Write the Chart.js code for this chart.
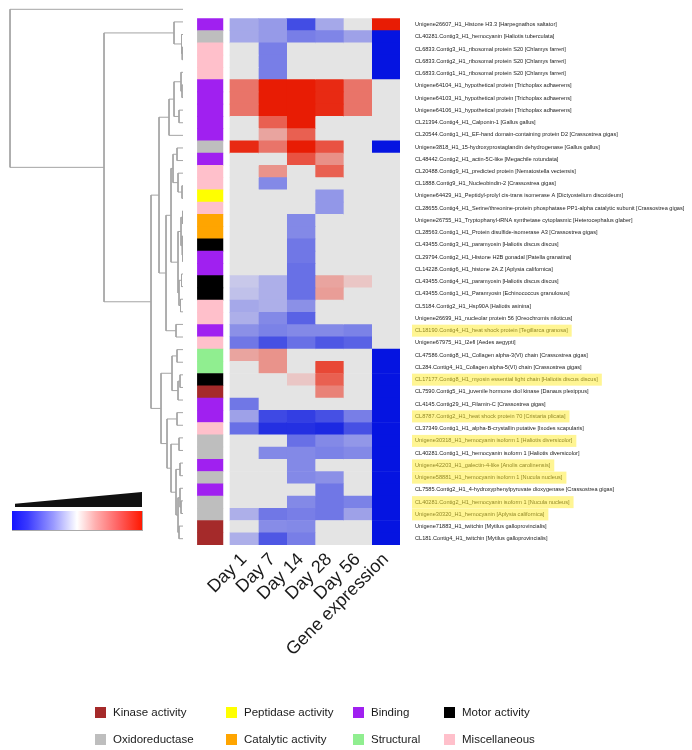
<!DOCTYPE html>
<html>
<head>
<meta charset="utf-8">
<script src="https://cdn.jsdelivr.net/npm/chart.js@4.4.1/dist/chart.umd.min.js"></script>
<style>
  body { margin:0; background:#fff; font-family:"Liberation Sans", Arial, sans-serif; }
  #wrap { position:relative; width:692px; height:750px; overflow:hidden; }
  #heatmap, #tree { position:absolute; left:0; top:0; }
  .wedge { position:absolute; left:15px; top:492px; width:127px; height:15px; background:#111;
           clip-path:polygon(0 78%, 100% 0, 100% 100%, 0 100%); }
  .colorbar { position:absolute; left:12px; top:511px; width:130px; height:19px;
              background:linear-gradient(to right, #1414ff 0%, #3a3aff 12%, #9a9aff 32%, #ffffff 50%, #ffb0b0 64%, #ff6060 82%, #ff1800 100%);
              border-right:1px solid #aaa; border-bottom:1px solid #aaa; }
  .legend { position:absolute; left:95px; top:706px; display:grid;
            grid-template-columns:131px 127px 91px 120px; row-gap:15px; font-size:11.5px; color:#1a1a1a; }
  .legend div { display:flex; align-items:center; height:12px; white-space:nowrap; }
  .legend span { display:inline-block; width:11px; height:11px; margin-right:7px; }
</style>
</head>
<body>
<div id="wrap">
  <canvas id="heatmap" width="692" height="750"></canvas>
  <canvas id="tree" width="200" height="560"></canvas>
  <div class="wedge"></div>
  <div class="colorbar"></div>
  <div class="legend" id="legend"></div>
</div>
<script>
// DATA
const rowLabels = [
  "Unigene26607_H1_Histone H3.3 [Harpegnathos saltator]",
  "CL40281.Contig3_H1_hemocyanin [Haliotis tuberculata]",
  "CL6833.Contig3_H1_ribosomal protein S20 [Chlamys farreri]",
  "CL6833.Contig2_H1_ribosomal protein S20 [Chlamys farreri]",
  "CL6833.Contig1_H1_ribosomal protein S20 [Chlamys farreri]",
  "Unigene64104_H1_hypothetical protein [Trichoplax adhaerens]",
  "Unigene64103_H1_hypothetical protein [Trichoplax adhaerens]",
  "Unigene64106_H1_hypothetical protein [Trichoplax adhaerens]",
  "CL21394.Contig4_H1_Calponin-1 [Gallus gallus]",
  "CL20544.Contig1_H1_EF-hand domain-containing protein D2 [Crassostrea gigas]",
  "Unigene3818_H1_15-hydroxyprostaglandin dehydrogenase [Gallus gallus]",
  "CL48442.Contig2_H1_actin-5C-like [Megachile rotundata]",
  "CL20488.Contig9_H1_predicted protein [Nematostella vectensis]",
  "CL1888.Contig9_H1_Nucleobindin-2 [Crassostrea gigas]",
  "Unigene64429_H1_Peptidyl-prolyl cis-trans isomerase A [Dictyostelium discoideum]",
  "CL28655.Contig4_H1_Serine/threonine-protein phosphatase PP1-alpha catalytic subunit [Crassostrea gigas]",
  "Unigene26755_H1_Tryptophanyl-tRNA synthetase cytoplasmic [Heterocephalus glaber]",
  "CL28563.Contig1_H1_Protein disulfide-isomerase A3 [Crassostrea gigas]",
  "CL43455.Contig3_H1_paramyosin [Haliotis discus discus]",
  "CL29794.Contig2_H1_Histone H2B gonadal [Patella granatina]",
  "CL14228.Contig6_H1_histone 2A.Z [Aplysia californica]",
  "CL43455.Contig4_H1_paramyosin [Haliotis discus discus]",
  "CL43455.Contig1_H1_Paramyosin [Echinococcus granulosus]",
  "CL5184.Contig2_H1_Hsp90A [Haliotis asinina]",
  "Unigene26699_H1_nucleolar protein 56 [Oreochromis niloticus]",
  "CL18190.Contig4_H1_heat shock protein [Tegillarca granosa]",
  "Unigene67975_H1_I2efl [Aedes aegypti]",
  "CL47586.Contig8_H1_Collagen alpha-3(VI) chain [Crassostrea gigas]",
  "CL284.Contig4_H1_Collagen alpha-5(VI) chain [Crassostrea gigas]",
  "CL17177.Contig8_H1_myosin essential light chain [Haliotis discus discus]",
  "CL7590.Contig5_H1_juvenile hormone diol kinase [Danaus plexippus]",
  "CL4145.Contig29_H1_Filamin-C [Crassostrea gigas]",
  "CL8787.Contig2_H1_heat shock protein 70 [Cristaria plicata]",
  "CL37349.Contig1_H1_alpha-B-crystallin putative [Ixodes scapularis]",
  "Unigene30318_H1_hemocyanin isoform 1 [Haliotis diversicolor]",
  "CL40281.Contig1_H1_hemocyanin isoform 1 [Haliotis diversicolor]",
  "Unigene42203_H1_galectin-4-like [Anolis carolinensis]",
  "Unigene58881_H1_hemocyanin isoform 1 [Nucula nucleus]",
  "CL7585.Contig2_H1_4-hydroxyphenylpyruvate dioxygenase [Crassostrea gigas]",
  "CL40281.Contig2_H1_hemocyanin isoform 1 [Nucula nucleus]",
  "Unigene30320_H1_hemocyanin [Aplysia californica]",
  "Unigene71883_H1_twitchin [Mytilus galloprovincialis]",
  "CL181.Contig4_H1_twitchin [Mytilus galloprovincialis]"
];
const highlightedRows = [25, 29, 32, 34, 36, 37, 39, 40];

const columnLabels = ["Day 1", "Day 7", "Day 14", "Day 28", "Day 56", "Gene expression"];

// log fold change per row, null = no change (grey)
const day1  = [-0.9,-0.9,null,null,null,1.7,1.7,1.7,null,null,2.8,null,null,null,null,null,null,null,null,null,null,-0.45,-0.55,-0.9,-0.8,-1.25,-1.6,1.0,null,null,null,-1.6,-1.0,-1.7,null,null,null,null,null,null,-0.8,null,-0.8];
const day7  = [-1.1,-1.1,-1.5,-1.5,-1.5,3,3,3,2.0,1.0,1.7,null,1.25,-1.35,null,null,null,null,null,null,null,-0.8,-0.8,-0.8,-1.35,-1.45,-2.15,1.25,1.25,null,null,null,-2.25,-2.6,null,-1.35,null,null,null,null,-1.6,-1.3,-2.05];
const day14 = [-2.2,-1.5,null,null,null,3,3,3,3,2.0,3,2.2,null,null,null,null,-1.35,-1.35,-1.6,-1.6,-1.7,-1.7,-1.7,-1.25,-1.9,-1.35,-1.7,null,null,0.5,null,null,-2.4,-2.6,-1.7,-1.35,-1.35,-1.35,null,-1.35,-1.5,-1.35,-1.5];
const day28 = [-0.9,-1.4,null,null,null,2.8,2.8,2.8,null,null,2.2,1.3,2.0,null,-1.15,-1.15,null,null,null,null,null,1.0,1.1,null,null,-1.35,-2.05,null,2.35,2.0,1.5,null,-2.15,-2.7,-1.35,-1.45,null,-1.25,-1.6,-1.6,-1.6,null,null];
const day56 = [null,-1.0,null,null,null,1.7,1.7,1.7,null,null,null,null,null,null,null,null,null,null,null,null,null,0.5,null,null,null,-1.45,-1.9,null,null,null,null,null,-1.5,-2.15,-1.15,-1.35,null,null,null,-1.45,-1.0,null,null];
const geneExpression = [3,-3,-3,-3,-3,null,null,null,null,null,-3,null,null,null,null,null,null,null,null,null,null,null,null,null,null,null,null,-3,-3,-3,-3,-3,-3,-3,-3,-3,-3,-3,-3,-3,-3,-3,-3];

const categoryNames  = ["Kinase activity","Oxidoreductase","Peptidase activity","Catalytic activity","Binding","Structural","Motor activity","Miscellaneous"];
const categoryColors = ["#a52a2a","#bebebe","#ffff00","#ffa500","#a020f0","#90ee90","#000000","#ffc0cb"];
const rowCategory = [4,1,7,7,7,4,4,4,4,4,1,4,7,7,2,7,3,3,6,4,4,6,6,7,7,4,7,5,5,6,0,4,4,7,1,1,4,1,4,1,1,0,0];

// dendrogram: [height, left, right], leaves are row indexes
const dendrogram =
[173, 0,
  [79,
    [9, 1, [1.5, 2, [0.8, 3, 4]]],
    [32,
      [24,
        [14, [9, [2, 5, [1, 6, 7]], [4, 8, 9]], 10],
        [17,
          [12,
            [10, [6, 11, 12], [5, 13, [1, 14, 15]]],
            [5, [2, [0.5, 16, 17], [1, 18, [0.5, 19, 20]]], [4, [1.5, 21, 22], [2.5, 23, 24]]]
          ],
          [7, 25, 26]
        ]
      ],
      [22,
        [11, [6, 27, 28], [5, [3, 29, 30], 31]],
        [16, [6, 32, 33],
          [12, [4, 34, 35], [7, [3, 36, 37], [5, [3, 38, [2, 39, 40]], [4, 41, 42]]]]
        ]
      ]
    ]
  ]
];

const FONT = '"Liberation Sans", Arial, sans-serif';

// COLOUR SCALE blue - white - red
function heatColor(v){
  if(v === null) return "#e4e4e4";
  let t = Math.min(Math.abs(v) / 3, 1);
  let lo = [234, 232, 236];
  let hi = v < 0 ? [5, 20, 225] : [232, 28, 4];
  let c = lo.map((l, k) => Math.round(l + (hi[k] - l) * t));
  return `rgb(${c[0]},${c[1]},${c[2]})`;
}

// HEATMAP (floating horizontal bars, one dataset per column)
const columns = [day1, day7, day14, day28, day56, geneExpression];

let datasets = [{
  data: rowLabels.map(() => [-1.15, -0.25]),
  backgroundColor: rowCategory.map(c => categoryColors[c])
}];
columns.forEach((vals, c) => {
  datasets.push({
    data: vals.map(() => [c, c + 1]),
    backgroundColor: vals.map(heatColor)
  });
});
datasets.forEach(d => {
  d.grouped = false;
  d.barPercentage = 1;
  d.categoryPercentage = 1;
  d.borderWidth = 0;
});

const labelFontSize = 5.6;

const highlightPlugin = {
  id: "rowHighlight",
  afterDraw(chart){
    let y = chart.scales.y;
    let ctx = chart.ctx;
    ctx.save();
    ctx.font = `${labelFontSize}px ${FONT}`;
    ctx.fillStyle = "rgba(255,236,40,0.5)";
    highlightedRows.forEach(i => {
      let py = y.getPixelForValue(i);
      let w = ctx.measureText(rowLabels[i]).width;
      ctx.fillRect(y.left + 12, py - 6, w + 7, 12);
    });
    ctx.restore();
  }
};

new Chart(document.getElementById("heatmap"), {
  type: "bar",
  data: { labels: rowLabels, datasets: datasets },
  options: {
    responsive: false,
    animation: false,
    indexAxis: "y",
    layout: { padding: { left: 196, top: 3, right: 0, bottom: 0 } },
    plugins: { legend: { display: false }, tooltip: { enabled: false } },
    scales: {
      x: {
        type: "linear", min: -1.2, max: 6,
        grid: { display: false, drawTicks: false },
        border: { display: false },
        afterBuildTicks: axis => { axis.ticks = columnLabels.map((_, i) => ({ value: i + 0.5 })); },
        afterFit: s => { s.height = 205; },
        ticks: {
          autoSkip: false, minRotation: 45, maxRotation: 45, padding: 4,
          color: "#1a1a1a", font: { family: FONT, size: 18 },
          callback: (v, i) => columnLabels[i]
        }
      },
      y: {
        position: "right",
        grid: { display: false, drawTicks: false },
        border: { display: false },
        afterFit: s => { s.width = 292; },
        ticks: { autoSkip: false, padding: 15, color: "#222", font: { family: FONT, size: labelFontSize } }
      }
    }
  },
  plugins: [highlightPlugin]
});

// DENDROGRAM
let links = [];
function walk(node){
  if(typeof node === "number") return { h: 0, y: node };
  let a = walk(node[1]);
  let b = walk(node[2]);
  links.push([{ x: a.h, y: a.y }, { x: node[0], y: a.y }, { x: node[0], y: b.y }, { x: b.h, y: b.y }]);
  return { h: node[0], y: (a.y + b.y) / 2 };
}
walk(dendrogram);

new Chart(document.getElementById("tree"), {
  type: "scatter",
  data: {
    datasets: links.map(pts => ({
      data: pts, showLine: true, borderColor: "#a4a4a4", borderWidth: 1,
      pointRadius: 0, tension: 0, clip: false
    }))
  },
  options: {
    responsive: false,
    animation: false,
    layout: { padding: { left: 10, right: 17, top: 3, bottom: 15 } },
    plugins: { legend: { display: false }, tooltip: { enabled: false } },
    scales: {
      x: { type: "linear", min: 0, max: 173, reverse: true, display: false },
      y: { type: "linear", min: -0.5, max: 42.5, reverse: true, display: false }
    }
  }
});

// CATEGORY LEGEND
const legendOrder = [0, 2, 4, 6, 1, 3, 5, 7];
document.getElementById("legend").innerHTML = legendOrder.map(c =>
  `<div><span style="background:${categoryColors[c]}"></span>${categoryNames[c]}</div>`
).join("");
</script>
</body>
</html>
